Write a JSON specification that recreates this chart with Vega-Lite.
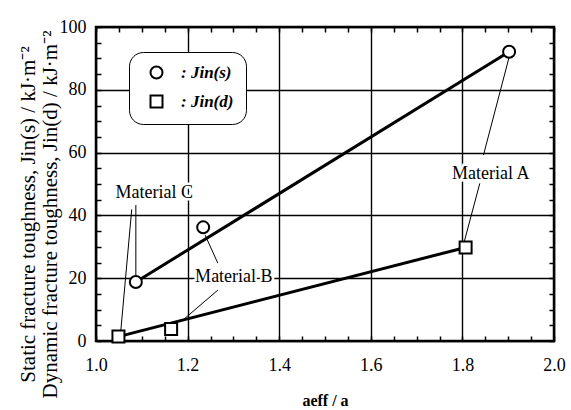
{
  "$schema": "https://vega.github.io/schema/vega-lite/v6.json",
  "width": 458,
  "height": 314,
  "autosize": {"type": "none"},
  "padding": {"left": 96, "top": 27, "right": 17, "bottom": 69},
  "background": "white",
  "config": {
    "font": "Liberation Serif",
    "view": {"stroke": "black", "strokeWidth": 2.5},
    "axis": {
      "domain": false,
      "labelFont": "Liberation Serif",
      "labelFontSize": 18,
      "labelColor": "black",
      "tickColor": "black",
      "tickWidth": 1.5,
      "gridColor": "black",
      "gridWidth": 1.4,
      "labelOverlap": false,
      "labelFlush": false,
      "titleColor": "black",
      "titleFont": "Liberation Serif"
    }
  },
  "datasets": {
    "points": [
      {"x": 1.087, "y": 18.8, "series": "Jin(s)"},
      {"x": 1.234, "y": 36.2, "series": "Jin(s)"},
      {"x": 1.902, "y": 92.1, "series": "Jin(s)"},
      {"x": 1.049, "y": 1.4, "series": "Jin(d)"},
      {"x": 1.164, "y": 3.8, "series": "Jin(d)"},
      {"x": 1.807, "y": 29.8, "series": "Jin(d)"}
    ],
    "fits": [
      {"x": 1.087, "y": 18.8, "series": "Jin(s)"},
      {"x": 1.902, "y": 92.1, "series": "Jin(s)"},
      {"x": 1.049, "y": 1.4, "series": "Jin(d)"},
      {"x": 1.807, "y": 29.8, "series": "Jin(d)"}
    ],
    "leaders": [
      {"x": 1.078, "y": 41.9, "x2": 1.054, "y2": 3.0},
      {"x": 1.087, "y": 43.3, "x2": 1.087, "y2": 20.5},
      {"x": 1.238, "y": 33.8, "x2": 1.266, "y2": 24.8},
      {"x": 1.266, "y": 16.2, "x2": 1.190, "y2": 6.7},
      {"x": 1.902, "y": 90.4, "x2": 1.846, "y2": 59.2},
      {"x": 1.838, "y": 50.2, "x2": 1.804, "y2": 31.6}
    ],
    "labels": [
      {"x": 1.127, "y": 47.1, "text": "Material C"},
      {"x": 1.301, "y": 20.5, "text": "Material B"},
      {"x": 1.862, "y": 53.2, "text": "Material A"}
    ]
  },
  "resolve": {
    "axis": {"x": "independent", "y": "independent"},
    "scale": {"shape": "independent"},
    "legend": {"shape": "independent"}
  },
  "layer": [
    {
      "data": {"name": "fits"},
      "mark": {"type": "line", "color": "black", "strokeWidth": 3},
      "encoding": {
        "x": {
          "field": "x", "type": "quantitative",
          "scale": {"domain": [1, 2], "nice": false, "zero": false},
          "axis": {
            "orient": "bottom",
            "values": [1, 1.05, 1.1, 1.15, 1.2, 1.25, 1.3, 1.35, 1.4, 1.45, 1.5, 1.55, 1.6, 1.65, 1.7, 1.75, 1.8, 1.85, 1.9, 1.95, 2],
            "labelExpr": "abs(datum.value*5-round(datum.value*5))<0.01 ? format(datum.value,'.1f') : ''",
            "tickSize": -5,
            "labelPadding": 20,
            "gridOpacity": {"condition": {"test": "abs(datum.value*5-round(datum.value*5))<0.01", "value": 1}, "value": 0},
            "title": "aeff / a",
            "titleFontSize": 16,
            "titleFontWeight": "bold",
            "titleY": 59,
            "titleBaseline": "middle"
          }
        },
        "y": {
          "field": "y", "type": "quantitative",
          "scale": {"domain": [0, 100], "nice": false},
          "axis": {
            "orient": "left",
            "values": [0, 5, 10, 15, 20, 25, 30, 35, 40, 45, 50, 55, 60, 65, 70, 75, 80, 85, 90, 95, 100],
            "labelExpr": "abs(datum.value/20-round(datum.value/20))<0.01 ? format(datum.value,'d') : ''",
            "tickSize": -5,
            "labelPadding": 15,
            "gridOpacity": {"condition": {"test": "abs(datum.value/20-round(datum.value/20))<0.01", "value": 1}, "value": 0},
            "title": ["Static fracture toughness, Jin(s) / kJ·m⁻²", "Dynamic fracture toughness, Jin(d) / kJ·m⁻²"],
            "titleFontSize": 21,
            "titleFontWeight": "normal",
            "titleLineHeight": 22,
            "titleX": -68,
            "titleY": 187,
            "titleBaseline": "middle"
          }
        },
        "detail": {"field": "series", "type": "nominal"}
      }
    },
    {
      "data": {"name": "leaders"},
      "mark": {"type": "rule", "color": "black", "strokeWidth": 1},
      "encoding": {
        "x": {"field": "x", "type": "quantitative", "scale": {"domain": [1, 2], "nice": false, "zero": false}, "axis": null},
        "y": {"field": "y", "type": "quantitative", "scale": {"domain": [0, 100], "nice": false}, "axis": null},
        "x2": {"field": "x2"},
        "y2": {"field": "y2"}
      }
    },
    {
      "data": {"name": "points"},
      "mark": {"type": "point", "filled": true, "color": "white", "size": 144, "opacity": 1},
      "encoding": {
        "x": {"field": "x", "type": "quantitative", "scale": {"domain": [1, 2], "nice": false, "zero": false}, "axis": null},
        "y": {"field": "y", "type": "quantitative", "scale": {"domain": [0, 100], "nice": false}, "axis": null},
        "shape": {
          "field": "series", "type": "nominal",
          "scale": {"domain": ["Jin(s)", "Jin(d)"], "range": ["circle", "square"]},
          "legend": null
        }
      }
    },
    {
      "data": {"name": "points"},
      "mark": {"type": "point", "filled": false, "color": "black", "strokeWidth": 2, "size": 144, "opacity": 1},
      "encoding": {
        "x": {
          "field": "x", "type": "quantitative",
          "scale": {"domain": [1, 2], "nice": false, "zero": false},
          "axis": {
            "orient": "top",
            "values": [1, 1.05, 1.1, 1.15, 1.2, 1.25, 1.3, 1.35, 1.4, 1.45, 1.5, 1.55, 1.6, 1.65, 1.7, 1.75, 1.8, 1.85, 1.9, 1.95, 2],
            "labels": false, "grid": false, "tickSize": -5, "title": null
          }
        },
        "y": {
          "field": "y", "type": "quantitative",
          "scale": {"domain": [0, 100], "nice": false},
          "axis": {
            "orient": "right",
            "values": [0, 5, 10, 15, 20, 25, 30, 35, 40, 45, 50, 55, 60, 65, 70, 75, 80, 85, 90, 95, 100],
            "labels": false, "grid": false, "tickSize": -5, "title": null
          }
        },
        "shape": {
          "field": "series", "type": "nominal",
          "scale": {"domain": ["Jin(s)", "Jin(d)"], "range": ["circle", "square"]},
          "legend": {
            "orient": "none",
            "legendX": 33,
            "legendY": 25,
            "title": null,
            "fillColor": "white",
            "strokeColor": "black",
            "cornerRadius": 14,
            "padding": 12,
            "symbolSize": 144,
            "symbolStrokeWidth": 2,
            "symbolOffset": 7,
            "labelExpr": "': ' + datum.label",
            "labelFont": "Liberation Serif",
            "labelFontSize": 17,
            "labelFontStyle": "italic",
            "labelFontWeight": "bold",
            "labelColor": "black",
            "labelOffset": 16,
            "rowPadding": 8
          }
        }
      }
    },
    {
      "data": {"name": "labels"},
      "mark": {"type": "text", "font": "Liberation Serif", "fontSize": 18, "stroke": "white", "strokeWidth": 5, "fill": "white"},
      "encoding": {
        "x": {"field": "x", "type": "quantitative", "scale": {"domain": [1, 2], "nice": false, "zero": false}, "axis": null},
        "y": {"field": "y", "type": "quantitative", "scale": {"domain": [0, 100], "nice": false}, "axis": null},
        "text": {"field": "text"}
      }
    },
    {
      "data": {"name": "labels"},
      "mark": {"type": "text", "font": "Liberation Serif", "fontSize": 18, "color": "black"},
      "encoding": {
        "x": {"field": "x", "type": "quantitative", "scale": {"domain": [1, 2], "nice": false, "zero": false}, "axis": null},
        "y": {"field": "y", "type": "quantitative", "scale": {"domain": [0, 100], "nice": false}, "axis": null},
        "text": {"field": "text"}
      }
    }
  ]
}
